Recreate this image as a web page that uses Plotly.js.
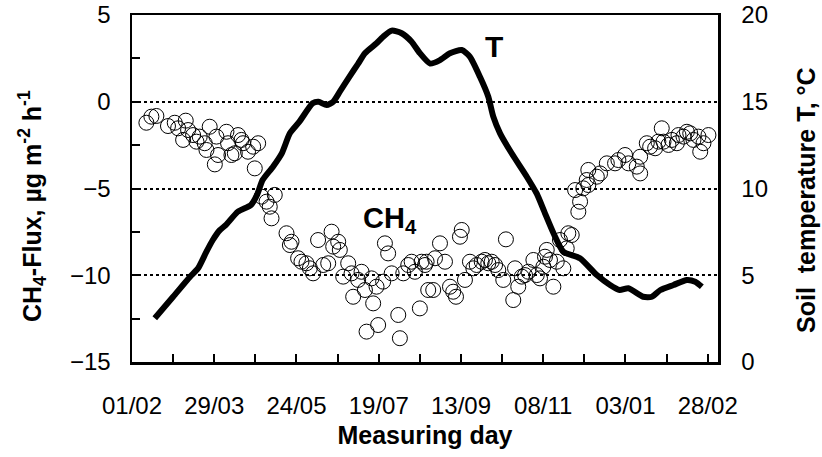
<!DOCTYPE html>
<html>
<head>
<meta charset="utf-8">
<script src="https://cdn.plot.ly/plotly-3.0.1.min.js"></script>
<style>html,body{margin:0;padding:0;background:#fff;}#chart{width:822px;height:457px;}</style>
</head>
<body>
<div id="chart"></div>
<script>
// Days counted from 01/02 (first measuring day); labelled ticks every 56 days
const tickDays = [0, 56, 112, 168, 224, 280, 336, 392];
const tickLabels = ['01/02', '29/03', '24/05', '19/07', '13/09', '08/11', '03/01', '28/02'];

// CH4 flux (µg m-2 h-1), open circles
const ch4Days = [9.8, 13.2, 16.6, 24.5, 29.1, 31.4, 36.6, 34.8, 38.2, 41.6, 43.9, 46.1, 49.5, 50.7, 52.9, 56.4, 58.6, 57.5, 64.3, 65.4, 67.7, 70, 72.2, 74.5, 75.6, 79, 82.5, 85.9, 83.6,
  88.2, 91.6, 93.8, 97.2, 95, 105.2, 108.6, 107.5, 113.1, 115.4, 118.8, 121.1, 123.3, 126.7, 130.2, 133.6, 135.9, 137, 140.4, 141.5, 143.8, 147.2, 149.5, 150.6, 154, 156.3, 158.6, 159.7, 163.1, 164.2, 167.6, 166.5, 171, 172.2, 174.4, 176.8, 181.3, 182.4, 184.7, 188.1, 190.4, 192.6, 196, 197.2, 201.7,
  199.5, 200.6, 205.1, 206.3, 209.7, 213.1, 216.5, 218.7, 220.6, 223.3, 224.5, 226.7, 230.1, 232.4, 234.7, 238.1, 240.3, 242.6, 244.9, 247.2, 249.4, 252.8, 254.6, 259.6, 260.8, 263, 265.4, 267.6, 269.9, 273.3, 275.6, 277.8, 280.1, 282.4, 281.2, 284.6, 286.9, 289.2, 291.4, 293.7, 296, 297.1, 299.4, 303.9, 305.1, 301.7, 307.3, 310.7,
  309.6, 310.7, 316.5, 318.7, 323.3, 328.9, 331.2, 335.7, 338, 343.7, 346, 346, 350.5, 352.8, 356.2, 358.4, 360.7, 361.9, 365.3, 367.6, 371, 372.1, 375.5, 377.8, 380.1, 382.3, 385.7, 386.9, 389.1, 392.5];
const ch4Flux = [-1.21, -0.86, -0.82, -1.40, -1.21, -1.53, -1.09, -2.20, -1.63, -1.92, -2.30, -2.01, -2.39, -2.78, -1.44, -3.61, -3.07, -2.01, -1.73, -2.39, -3.07, -2.97, -1.92, -2.20, -2.39, -2.88, -2.59, -2.39, -3.84,
  -5.47, -5.76, -6.05, -5.37, -6.72, -7.58, -8.07, -8.26, -9.02, -9.22, -9.31, -9.60, -9.89, -7.97, -9.41, -9.31, -7.49, -8.35, -8.07, -8.54, -10.08, -9.31, -9.89, -11.24, -10.27, -9.80, -10.85, -13.25, -10.18, -11.62, -12.87, -10.66, -10.37, -8.16, -8.74, -9.89, -12.29, -13.63, -9.89, -9.41, -9.22, -9.80, -11.91, -9.22, -10.85,
  -9.41, -9.22, -10.85, -9.02, -8.16, -9.22, -10.66, -10.95, -11.24, -7.78, -7.39, -10.27, -9.22, -9.60, -9.41, -9.22, -9.12, -9.31, -9.22, -9.41, -9.70, -10.27, -7.93, -11.43, -9.60, -10.66, -10.08, -9.99, -9.80, -9.12, -9.99, -10.18, -9.51, -8.54, -8.93, -9.12, -10.66, -9.22, -7.97, -9.60, -8.45, -7.58, -7.68, -6.34, -5.76, -5.09, -4.99, -4.80,
  -4.51, -3.93, -4.32, -4.13, -3.55, -3.55, -3.36, -3.07, -3.55, -3.74, -4.13, -3.17, -2.39, -2.59, -2.68, -2.30, -1.53, -2.30, -2.49, -2.20, -2.39, -1.92, -2.01, -1.73, -1.82, -2.20, -2.01, -2.88, -2.39, -1.92];

// Soil temperature T (°C), thick line
const tDays = [15.5, 28, 39.4, 45, 50.7, 55, 59.8, 64, 72, 81, 85, 89, 96, 102, 107.5, 114, 123, 127, 132.5, 137, 141.5, 148, 154, 158.6, 166.5, 171, 176.8, 183.6, 190.4, 196, 203, 209.7, 216.5, 224.5, 230, 236.9, 242.6, 246, 250.6, 258.5, 268.8, 275.6, 281.2, 287, 293.7, 305, 316.5, 325.5, 332, 338, 348, 354, 359.8, 368.7, 377.8, 383.5, 388];
const tSoil = [2.52, 3.76, 4.9, 5.4, 6.36, 7.03, 7.6, 7.9, 8.66, 9.05, 9.6, 10.5, 11.26, 12.03, 13.18, 13.85, 14.91, 15.0, 14.81, 15.0, 15.58, 16.44, 17.2, 17.8, 18.37, 18.75, 19.1, 18.95, 18.46, 17.8, 17.2, 17.4, 17.8, 17.98, 17.6, 16.44, 15.29, 14.14, 13.18, 12.03, 10.68, 9.7, 8.57, 7.42, 6.36, 5.98, 5.01, 4.44, 4.15, 4.25, 3.76, 3.76, 4.15, 4.44, 4.73, 4.63, 4.34];

const FONT = 'Liberation Sans, Arial, sans-serif';

const traces = [
  {
    x: ch4Days, y: ch4Flux, type: 'scatter', mode: 'markers', name: 'CH4', yaxis: 'y',
    marker: {symbol: 'circle-open', size: 15, color: '#000', line: {width: 1, color: '#000'}}
  },
  {
    x: tDays, y: tSoil, type: 'scatter', mode: 'lines', name: 'T', yaxis: 'y2',
    line: {color: '#000', width: 6, shape: 'spline', smoothing: 0.6}
  }
];

const layout = {
  width: 822, height: 457,
  margin: {l: 132, r: 104, t: 15, b: 95, pad: 0},
  paper_bgcolor: '#fff', plot_bgcolor: '#fff',
  showlegend: false,
  font: {family: FONT, color: '#000', size: 24},
  xaxis: {
    range: [0, 399], tickmode: 'array', tickvals: tickDays, ticktext: tickLabels,
    ticks: 'inside', ticklen: 8, tickwidth: 2, tickcolor: '#000',
    minor: {tickmode: 'linear', tick0: 0, dtick: 28, ticks: 'inside', ticklen: 8, tickwidth: 2, tickcolor: '#000', showgrid: false},
    showgrid: false, zeroline: false,
    showline: true, linecolor: '#000', linewidth: 2.5, mirror: true,
    tickfont: {family: FONT, size: 24, color: '#000'}, ticklabelstandoff: 21,
    title: {text: '<b>Measuring day</b>', font: {family: FONT, size: 25, color: '#000'}, standoff: 8}
  },
  yaxis: {
    range: [-15, 5], tickmode: 'linear', tick0: -15, dtick: 5,
    ticks: 'inside', ticklen: 8, tickwidth: 2, tickcolor: '#000',
    minor: {tickmode: 'linear', tick0: -15, dtick: 2.5, ticks: 'inside', ticklen: 8, tickwidth: 2, tickcolor: '#000', showgrid: false},
    showgrid: true, gridcolor: '#000', gridwidth: 2, griddash: '3px,3px',
    zeroline: false, showline: true, linecolor: '#000', linewidth: 2.5, mirror: true,
    tickfont: {family: FONT, size: 24, color: '#000'}, ticklabelstandoff: 14
  },
  yaxis2: {
    overlaying: 'y', side: 'right', range: [0, 20], tickmode: 'linear', tick0: 0, dtick: 5,
    ticks: '', showgrid: false, zeroline: false,
    showline: true, linecolor: '#000', linewidth: 2.5,
    tickfont: {family: FONT, size: 24, color: '#000'}, ticklabelstandoff: 16
  },
  annotations: [
    {x: 246.5, y: 3.16, xref: 'x', yref: 'y', text: '<b>T</b>', showarrow: false, font: {family: FONT, size: 30, color: '#000'}},
    {x: 175.6, y: -6.82, xref: 'x', yref: 'y', text: '<b>CH<sub>4</sub></b>', showarrow: false, font: {family: FONT, size: 29, color: '#000'}},
    {x: 32, y: 206, xref: 'paper', yref: 'paper', text: '<b>CH<sub>4</sub>-Flux, µg m<sup>-2</sup> h<sup>-1</sup></b>', textangle: -90, showarrow: false, xanchor: 'center', yanchor: 'middle', font: {family: FONT, size: 25, color: '#000'}},
    {x: 806, y: 200, xref: 'paper', yref: 'paper', text: '<b>Soil\u00a0 temperature T, °C</b>', textangle: -90, showarrow: false, xanchor: 'center', yanchor: 'middle', font: {family: FONT, size: 25, color: '#000'}}
  ]
};

// Convert pixel-based title anchors to paper fractions
const pw = layout.width - layout.margin.l - layout.margin.r;
const ph = layout.height - layout.margin.t - layout.margin.b;
layout.annotations.slice(2).forEach(a => {
  a.x = (a.x - layout.margin.l) / pw;
  a.y = 1 - (a.y - layout.margin.t) / ph;
});

Plotly.newPlot('chart', traces, layout, {displayModeBar: false, staticPlot: true});
</script>
</body>
</html>
